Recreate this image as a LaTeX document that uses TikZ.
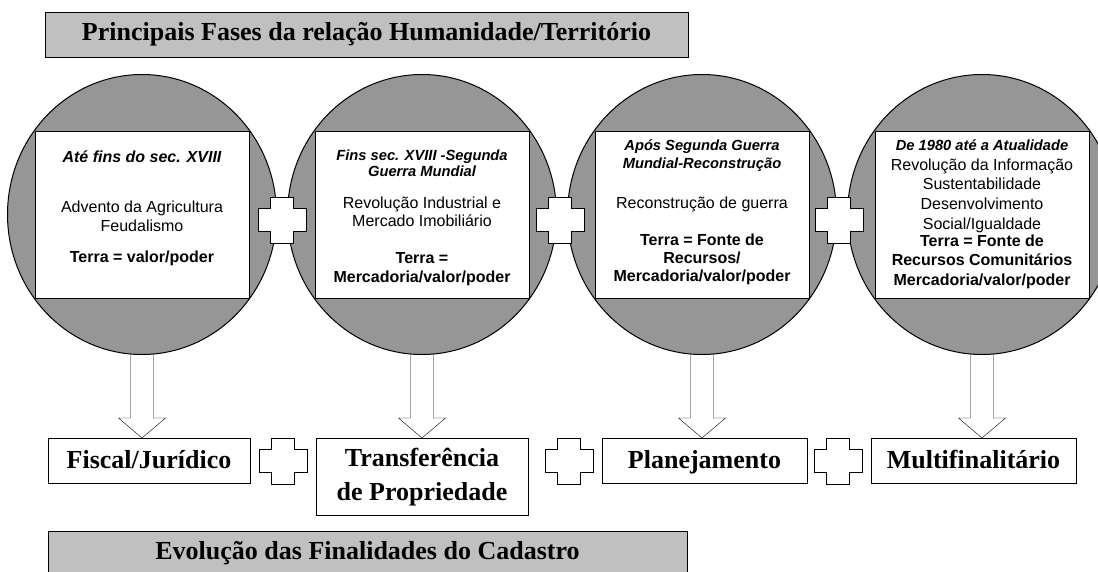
\documentclass[tikz,border=0pt]{standalone}
\usepackage{fontspec}
\setmainfont{Liberation Serif}
\newfontfamily\sansarial{Liberation Sans}
\usetikzlibrary{shapes.geometric,positioning,calc,backgrounds}
\definecolor{circlegray}{HTML}{969696}
\definecolor{titlegray}{HTML}{C0C0C0}
\newcommand{\headfont}{\bfseries\itshape\fontsize{14.7}{17}\selectfont}

\begin{document}
\begin{tikzpicture}[x=1pt,y=1pt,line width=1pt,
    bar/.style={draw,fill=titlegray,minimum width=643pt,minimum height=45pt,inner sep=0pt,
                font=\bfseries\fontsize{26}{30}\selectfont},
    phase/.style={draw,ellipse,fill=circlegray,minimum width=269pt,minimum height=280pt,inner sep=0pt},
    period/.style={draw,fill=white,minimum width=214pt,minimum height=167pt,inner sep=0pt},
    periodtext/.style={align=center,inner sep=0pt,font=\sansarial\fontsize{16}{19}\selectfont},
    goal/.style={draw,fill=white,anchor=north,minimum height=45pt,inner sep=0pt,align=center,
                 font=\bfseries\fontsize{26}{34}\selectfont},
    oneline/.style={text height=19pt,text depth=4pt},
    hollow/.style={draw,fill=white},
    plus/.pic={\draw[fill=white] (-24,-11.5) -- (-11.5,-11.5) -- (-11.5,-23) -- (11.5,-23)
                 -- (11.5,-11.5) -- (24,-11.5) -- (24,11.5) -- (11.5,11.5) -- (11.5,23)
                 -- (-11.5,23) -- (-11.5,11.5) -- (-24,11.5) -- cycle;}]

    \useasboundingbox (0,0) rectangle (1098,-571);

    \node[bar] (fases) at (366.5,-34.5) {Principais Fases da relação Humanidade/Território};

    % fases
    \node[phase] (c1) at (142,-214.5) {};
    \node[phase] (c2) [right=10pt of c1] {};
    \node[phase] (c3) [right=10pt of c2] {};
    \node[phase] (c4) [right=10pt of c3] {};

    \node[period] (p1) at (c1) {};
    \node[period] (p2) at (c2) {};
    \node[period] (p3) at (c3) {};
    \node[period] (p4) at (c4) {};

    \pic (x1) at (282,-220) {plus};
    \pic (x2) at (560,-220) {plus};
    \pic (x3) at (839,-220) {plus};

    \node[periodtext] (t1) [below=20pt of p1.north]
        {{\bfseries\itshape Até fins do sec. XVIII}\\[31pt]
         Advento da Agricultura\\ Feudalismo\\[12pt]
         {\bfseries Terra = valor/poder}};
    \node[periodtext] (t2) [below=19pt of p2.north]
        {{\headfont Fins sec. XVIII -Segunda}\\[-3pt]
         {\headfont Guerra Mundial}\\[13pt]
         Revolução Industrial e\\[-1pt] Mercado Imobiliário\\[18pt]
         {\bfseries Terra =}\\ {\bfseries Mercadoria/valor/poder}};
    \node[periodtext] (t3) [below=9pt of p3.north]
        {{\headfont Após Segunda Guerra}\\[-1pt]
         {\headfont Mundial-Reconstrução}\\[21pt]
         Reconstrução de guerra\\[18pt]
         {\bfseries Terra = Fonte de}\\[-1pt] {\bfseries Recursos/}\\[-1pt]
         {\bfseries Mercadoria/valor/poder}};
    \node[periodtext] (t4) [below=9pt of p4.north]
        {{\headfont De 1980 até a Atualidade}\\[1pt]
         Revolução da Informação\\ Sustentabilidade\\[1pt]
         Desenvolvimento\\[1pt] Social/Igualdade\\[-2pt]
         {\bfseries Terra = Fonte de}\\ {\bfseries Recursos Comunitários}\\[1pt]
         {\bfseries Mercadoria/valor/poder}};

    % finalidades
    \node[goal,oneline,minimum width=202pt] (f1) at (149,-438) {Fiscal/Jurídico};
    \node[goal,minimum width=212pt,minimum height=77pt] (f2) at (422,-438) {Transferência\\de Propriedade};
    \node[goal,oneline,minimum width=205pt] (f3) at (704.5,-438) {Planejamento};
    \node[goal,oneline,minimum width=205pt] (f4) at (973.5,-438) {Multifinalitário};

    \pic (y1) at (283,-461) {plus};
    \pic (y2) at (569,-461) {plus};
    \pic (y3) at (838,-461) {plus};

    \begin{scope}[on background layer]
        \foreach \c/\g in {c1/f1,c2/f2,c3/f3,c4/f4}
            \draw[hollow] ($(\c.south)+(-11.5,10)$) -- ($(\c.south|-\g.north)+(-11.5,20)$) -- ++(-12,0)
                -- (\c.south|-\g.north) -- ++(23.5,20) -- ++(-12,0) -- ($(\c.south)+(11.5,10)$) -- cycle;
    \end{scope}

    \node[bar,minimum width=639pt] (cadastro) at (367.5,-553.5) {Evolução das Finalidades do Cadastro};

\end{tikzpicture}
\end{document}
